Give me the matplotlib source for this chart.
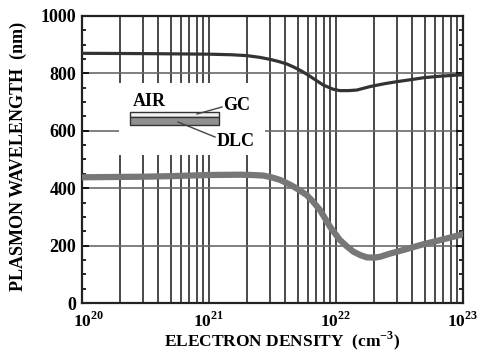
import matplotlib
matplotlib.use("Agg")
import matplotlib.pyplot as plt
from matplotlib.patches import Rectangle
from matplotlib.transforms import ScaledTranslation
from matplotlib.ticker import LogLocator, MultipleLocator, NullFormatter

plt.rcParams['font.family'] = 'Liberation Serif'
plt.rcParams['font.weight'] = 'bold'
plt.rcParams['axes.labelweight'] = 'bold'
plt.rcParams['mathtext.fontset'] = 'custom'
plt.rcParams['mathtext.rm'] = 'Liberation Serif:bold'
plt.rcParams['mathtext.bf'] = 'Liberation Serif:bold'

# electron density (cm^-3) and plasmon wavelength (nm)
gc_density = [1e20, 3e20, 1e21, 1.5e21, 1.98e21, 2.5e21, 3.02e21, 3.5e21, 4.09e21, 4.6e21,
              5.21e21, 5.9e21, 6.59e21, 7.9e21, 9.47e21, 1.07e22, 1.25e22, 1.46e22,
              1.85e22, 2.4e22, 3.0e22, 4.0e22, 4.9e22, 6.5e22, 8.9e22, 1e23]
gc_wavelength = [870, 869, 867, 865, 862, 856, 849, 842, 833, 823,
                 811, 797, 783, 760, 745, 740, 740, 742,
                 754, 764, 771, 779, 785, 790, 794, 795]

dlc_density = [1e20, 3e20, 5e20, 1e21, 1.75e21, 2.2e21, 2.68e21, 3.1e21, 3.62e21, 4.1e21,
               4.61e21, 5.2e21, 5.88e21, 6.6e21, 7.48e21, 8.97e21, 1.07e22, 1.22e22,
               1.37e22, 1.55e22, 1.75e22, 2.0e22, 2.22e22, 2.66e22, 3.6e22, 4.9e22,
               6.6e22, 9.5e22, 1e23]
dlc_wavelength = [438, 440, 442, 446, 447, 446, 444, 438, 429, 418,
                  406, 392, 376, 353, 324, 266, 220, 197,
                  179, 167, 159, 158, 161, 172, 188, 205,
                  219, 237, 240]

fig = plt.figure(figsize=(4.78, 3.52), dpi=100)
ax = fig.add_axes([82 / 478, 49 / 352, 381 / 478, 287 / 352])

ax.set_xscale('log')
ax.set_xlim(1e20, 1e23)
ax.set_ylim(0, 1000)

ax.xaxis.set_minor_locator(LogLocator(base=10, subs=range(2, 10), numticks=100))
ax.xaxis.set_minor_formatter(NullFormatter())
ax.set_xticks([1e20, 1e21, 1e22, 1e23])
ax.set_xticklabels([r'$10^{20}$', r'$10^{21}$', r'$10^{22}$', r'$10^{23}$'], fontsize=12.5)
ax.yaxis.set_major_locator(MultipleLocator(200))
ax.yaxis.set_minor_locator(MultipleLocator(50))
ax.tick_params(axis='y', which='both', direction='in', right=True, labelsize=13, pad=4)
ax.tick_params(axis='y', which='major', length=5, width=1.2)
ax.tick_params(axis='y', which='minor', length=3, width=1.2)
ax.tick_params(axis='x', which='both', direction='in', length=0, pad=6)

# first x label sits a little to the right, clear of the "0"
first = ax.get_xticklabels()[0]
first.set_transform(first.get_transform() + ScaledTranslation(7 / 100, 0, fig.dpi_scale_trans))

ax.grid(True, axis='x', which='both', color='#3a3a3a', lw=1.3)
ax.grid(True, axis='y', which='major', color='#6a6a6a', lw=1.2)
ax.set_axisbelow(True)
for s in ax.spines.values():
    s.set_linewidth(1.6)
    s.set_color('#222222')

# white inset area
ax.add_patch(Rectangle(((119 - 82) / 381, (303 - 155) / 287), (265 - 119) / 381, (155 - 83) / 287,
                       transform=ax.transAxes, facecolor='white', edgecolor='none', zorder=1))

ax.plot(gc_density, gc_wavelength, color='#333333', lw=2.3, zorder=3, solid_joinstyle='round')
ax.plot(dlc_density, dlc_wavelength, color='#777777', lw=4.5, zorder=3, solid_joinstyle='round')

# layer sketch
def fx(px):
    return (px - 82) / 381

def fy(py):
    return (303 - py) / 287

ax.add_patch(Rectangle((fx(130), fy(117)), fx(219) - fx(130), fy(112) - fy(117),
                       transform=ax.transAxes, facecolor='#f2f2f2', edgecolor='#333333', lw=1, zorder=4))
ax.add_patch(Rectangle((fx(130), fy(125)), fx(219) - fx(130), fy(117) - fy(125),
                       transform=ax.transAxes, facecolor='#909090', edgecolor='#333333', lw=1, zorder=4))
ax.plot([fx(197), fx(222)], [fy(114), fy(107)], transform=ax.transAxes, color='#444444', lw=1, zorder=5)
ax.plot([fx(178), fx(215)], [fy(122), fy(137)], transform=ax.transAxes, color='#444444', lw=1, zorder=5)
ax.text(fx(133), fy(101), 'AIR', transform=ax.transAxes, fontsize=13, va='center', ha='left', zorder=5)
ax.text(fx(223), fy(105), 'GC', transform=ax.transAxes, fontsize=13, va='center', ha='left', zorder=5)
ax.text(fx(217), fy(142), 'DLC', transform=ax.transAxes, fontsize=13, va='center', ha='left', zorder=5)

fig.text(282 / 478, 1 - 341 / 352, r'ELECTRON DENSITY  (cm$^{-3}$)', fontsize=12.5,
         ha='center', va='center')
fig.text(18 / 478, 1 - 156 / 352, 'PLASMON WAVELENGTH  (nm)', fontsize=13,
         ha='center', va='center', rotation=90)

fig.savefig('out.png', dpi=100)
